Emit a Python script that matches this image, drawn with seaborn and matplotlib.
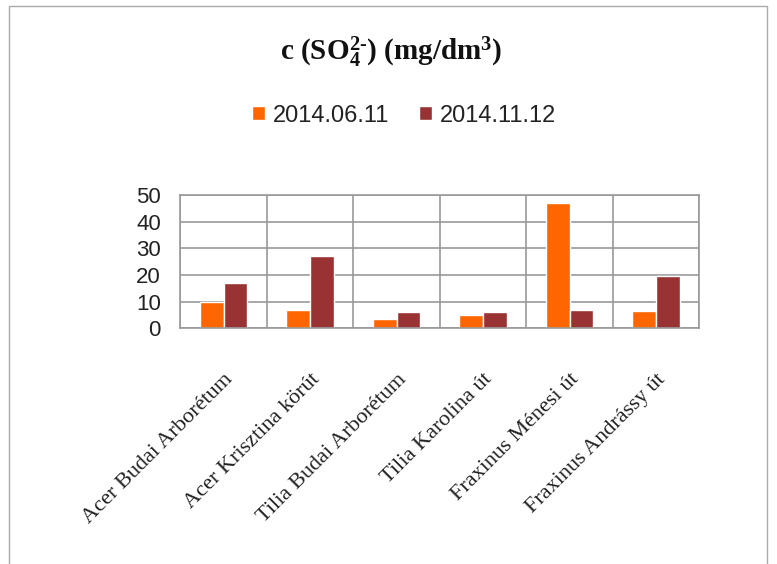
import pandas as pd
import matplotlib
matplotlib.use("Agg")
import matplotlib.pyplot as plt
import seaborn as sns

# Data
sites = ['Acer Budai Arborétum', 'Acer Krisztina körút', 'Tilia Budai Arborétum',
         'Tilia Karolina út', 'Fraxinus Ménesi út', 'Fraxinus Andrássy út']
dates = ['2014.06.11', '2014.11.12']
june_vals = [10, 7, 3.5, 5, 47, 6.5]
nov_vals = [17, 27, 6, 6, 7, 19.5]
colors = ['#FF6600', '#993333']

df = pd.DataFrame({
    'site': sites * 2,
    'date': [dates[0]] * len(sites) + [dates[1]] * len(sites),
    'value': june_vals + nov_vals,
})

sns.set_theme(style='white')
plt.rcParams['mathtext.fontset'] = 'custom'
plt.rcParams['mathtext.rm'] = 'Liberation Serif:bold'
plt.rcParams['mathtext.bf'] = 'Liberation Serif:bold'
plt.rcParams['mathtext.default'] = 'bf'

fig = plt.figure(figsize=(7.77, 5.64), dpi=100)
ax = fig.add_axes([0.232, 0.418, 0.668, 0.236])

sns.barplot(data=df, x='site', y='value', hue='date', palette=colors,
            width=0.55, saturation=1, ax=ax, legend=True)

ax.set_ylim(0, 50)
ax.set_yticks(range(0, 51, 10))
ax.yaxis.grid(True, color='#999999', lw=1.2)
for i in range(len(sites) + 1):
    ax.axvline(i - 0.5, color='#999999', lw=1.2, zorder=0)
ax.set_xlim(-0.5, len(sites) - 0.5)
ax.set_axisbelow(True)
for s in ax.spines.values():
    s.set_color('#999999')
    s.set_linewidth(1.2)

ax.set_xlabel('')
ax.set_ylabel('')
ax.tick_params(axis='y', labelsize=16, pad=8, left=False)
for lbl in ax.get_yticklabels():
    lbl.set_family('Liberation Sans')
    lbl.set_color('#222222')
ax.set_xticks(range(len(sites)))
ax.set_xticklabels(sites, rotation=45, ha='right', rotation_mode='anchor',
                   family='Liberation Serif', fontsize=16, color='#222222')
ax.tick_params(axis='x', pad=24, bottom=False)

leg = ax.legend(loc='center', ncol=2, frameon=False,
                handlelength=0.55, handleheight=0.55, handletextpad=0.3,
                columnspacing=1.3, prop={'family': 'Liberation Sans', 'size': 17})
leg.set_bbox_to_anchor((0.52, 0.795), transform=fig.transFigure)
for t in leg.get_texts():
    t.set_color('#222222')

fig.text(0.503, 0.907, r'c (SO$_4^{2\text{-}}$) (mg/dm$^3$)', ha='center', va='center',
         family='Liberation Serif', fontweight='bold', fontsize=21, color='#111111')

fig.add_artist(plt.Rectangle((0.012, -0.01), 0.975, 1.0, transform=fig.transFigure,
                             fill=False, ec='#aaaaaa', lw=1))

fig.savefig('out.png', dpi=100)
